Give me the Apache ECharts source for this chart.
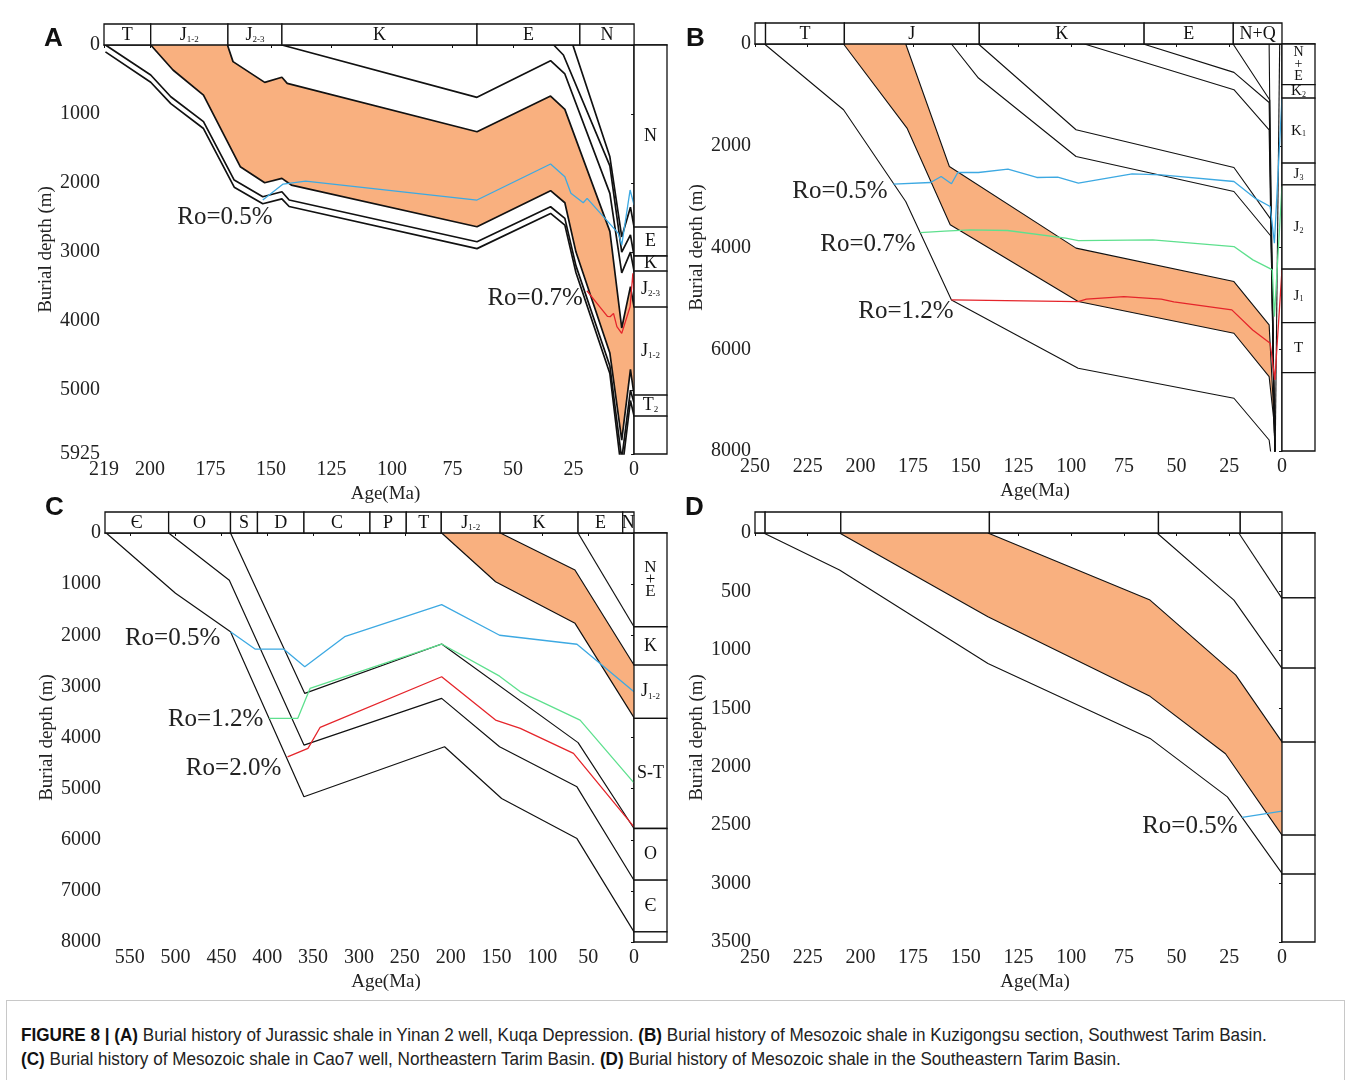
<!DOCTYPE html>
<html>
<head>
<meta charset="utf-8">
<script src="https://cdn.jsdelivr.net/npm/echarts@6/dist/echarts.min.js"></script>
<style>
  html, body { margin: 0; padding: 0; background: #fff; }
  #chart { width: 1352px; height: 1000px; }
  #caption {
    position: absolute; left: 6px; top: 1000px; width: 1339px; height: 80px;
    border-top: 1px solid #c8c8c8; border-left: 1px solid #c8c8c8; border-right: 1px solid #c8c8c8;
    box-sizing: border-box; padding: 22px 0 0 14px; overflow: hidden;
  }
  #caption div {
    font-family: "Liberation Sans Narrow", "Liberation Sans", Arial, sans-serif;
    font-size: 18.5px; line-height: 24px; color: #222; white-space: nowrap;
    transform: scale(0.925, 1); transform-origin: 0 0;
  }
  #caption b { color: #111; }
</style>
</head>
<body>
<div id="chart"></div>
<div id="caption"><div><b>FIGURE 8 | (A)</b> Burial history of Jurassic shale in Yinan 2 well, Kuqa Depression. <b>(B)</b> Burial history of Mesozoic shale in Kuzigongsu section, Southwest Tarim Basin.<br><b>(C)</b> Burial history of Mesozoic shale in Cao7 well, Northeastern Tarim Basin. <b>(D)</b> Burial history of Mesozoic shale in the Southeastern Tarim Basin.</div></div>
<script>
// ---- panel A: Yinan 2 well ----
const ageTicksA = [0, 25, 50, 75, 100, 125, 150, 175, 200, 219];
const depthTicksA = [0, 1000, 2000, 3000, 4000, 5000, 5925];
const barAgesA = [219, 199.7, 167.8, 145.5, 64.9, 22.4, 0];
const barNamesA = ['T', 'J_1-2', 'J_2-3', 'K', 'E', 'N'];
const colDepthsA = [0, 2637, 3057, 3275, 3796, 5072, 5376, 5925];
const colNamesA = ['N', 'E', 'K', 'J_2-3', 'J_1-2', 'T_2', ''];
const shaleTopA = [[168, 0], [165.7, 241], [152.6, 541], [145.5, 468], [143.3, 555], [64.9, 1256], [34.5, 739], [28.6, 932], [10, 2700], [5.1, 4100], [1.5, 3500], [0, 3796]];
const shaleBaseA = [[199.7, 0], [190.5, 362], [177.9, 725], [162.7, 1763], [152.6, 1995], [145.5, 1932], [141.6, 2029], [64.9, 2633], [34.5, 2111], [28.6, 2285], [24, 3000], [10, 4463], [5.1, 5724], [1.5, 4700], [0, 5072]];
const nBaseA = [[25.3, 0], [10, 1620], [5.1, 2780], [1.5, 2350], [0, 2637]];
const eBaseA = [[33.2, 0], [29.2, 145], [10, 1750], [5.1, 3000], [1.5, 2750], [0, 3057]];
const kBaseA = [[145.5, 0], [64.9, 758], [34.5, 228], [28.6, 420], [10, 2150], [5.1, 3300], [1.5, 3000], [0, 3275]];
const tUpperA = [[218.4, 0], [199.7, 435], [191.4, 749], [177.9, 1111], [165.2, 1956], [153.4, 2198], [145.5, 2126], [142.5, 2246], [64.9, 2850], [34.5, 2343], [28.6, 2511], [24, 3200], [10, 4650], [5.1, 6000], [1.5, 5000], [0, 5188]];
const tLowerA = [[218.4, 100], [199.7, 540], [191.4, 850], [177.9, 1210], [165.2, 2060], [153.4, 2300], [145.5, 2230], [142.5, 2340], [64.9, 2950], [34.5, 2440], [28.6, 2610], [24, 3300], [10, 4760], [5.1, 6200], [1.5, 5150], [0, 5376]];
const ro05A = [[153.4, 2246], [145, 2014], [135.7, 1971], [64.9, 2246], [34.5, 1724], [28.6, 1908], [26.1, 2149], [21, 2285], [19.4, 2222], [6.5, 2729], [5.1, 2898], [1.65, 2101], [0, 2318]];
const ro07A = [[19.5, 3560], [14, 3800], [11, 3930], [9.9, 3936], [8.5, 3888], [7.1, 4081], [5.1, 4178], [1.65, 3792], [0.5, 3308], [0, 3550]];
const roLabelsA = [[169, 2492, 'Ro=0.5%'], [40.9, 3666, 'Ro=0.7%']];

// ---- panel B: Kuzigongsu section ----
const ageTicksB = [0, 25, 50, 75, 100, 125, 150, 175, 200, 225, 250];
const depthTicksB = [0, 2000, 4000, 6000, 8000];
const barAgesB = [250, 245, 207.6, 143.6, 65.4, 23.1, 0];
const barNamesB = ['', 'T', 'J', 'K', 'E', 'N+Q'];
const colDepthsB = [0, 800, 1062, 2341, 2768, 4426, 5476, 6460, 8000];
const colNamesB = ['N+E', 'K_2', 'K_1', 'J_3', 'J_2', 'J_1', 'T', ''];
const shaleTopB = [[178.5, 0], [157.8, 2407], [97.7, 4013], [22.8, 4669], [6.1, 5521], [3.6, 7500]];
const shaleBaseB = [[208, 0], [177.9, 1652], [157.4, 3554], [96.7, 5063], [22.8, 5685], [6.1, 6538], [3.6, 7500]];
const tBaseB = [[245.5, 0], [208, 1292], [178.5, 3096], [156.8, 5030], [96.7, 6373], [22.8, 6963], [6.1, 7784], [4.5, 8300]];
const jUpperB = [[156.8, 0], [144, 669], [97.7, 2211], [22.8, 2899], [5.1, 3784], [3.3, 8300]];
const kLowerB = [[144, 0], [97.7, 1686], [22.8, 2427], [5.1, 3456], [3.3, 8300]];
const kUpperB = [[93.7, 0], [22.8, 899], [6.1, 1686], [3.3, 8300]];
const eBaseB = [[65.8, 0], [22.8, 558], [6.1, 1150], [3.3, 8300]];
const nBaseB = [[23.2, 0], [5.8, 1100], [3.3, 8300]];
const youngB1 = [[6.1, 0], [5.1, 3981], [3.3, 8300]];
const youngB2 = [[1.1, 0], [3.3, 8300]];
const ro05B = [[184.4, 2754], [166.7, 2722], [161.7, 2604], [156.8, 2748], [153.8, 2526], [144, 2526], [130, 2459], [116.3, 2624], [106.4, 2616], [96.6, 2734], [71.1, 2551], [57.3, 2571], [22.8, 2703], [12.9, 3029], [5.6, 3194], [3.6, 3914], [0, 1062]];
const ro07B = [[171.6, 3706], [160, 3680], [147.9, 3653], [130.2, 3666], [102.6, 3816], [96.6, 3863], [61.3, 3849], [22.8, 3981], [13.8, 4243], [6.1, 4406], [4.6, 4440], [3.6, 5358], [0, 2801]];
const ro12B = [[156.8, 5030], [96.7, 5063], [92.8, 5016], [75, 4965], [57.3, 5016], [51.3, 5069], [23.8, 5226], [13.9, 5620], [5.6, 5882], [3.4, 6603], [0, 4440]];
const roLabelsB = [[209.7, 2890, 'Ro=0.5%'], [196.4, 3932, 'Ro=0.7%'], [178.4, 5250, 'Ro=1.2%']];

// ---- panel C: Cao7 well ----
const ageTicksC = [0, 50, 100, 150, 200, 250, 300, 350, 400, 450, 500, 550];
const depthTicksC = [0, 1000, 2000, 3000, 4000, 5000, 6000, 7000, 8000];
const barAgesC = [577, 507.6, 440.1, 410.7, 360, 288, 248.4, 210.2, 146, 61, 12.3, 0];
const barNamesC = ['Є', 'O', 'S', 'D', 'C', 'P', 'T', 'J_1-2', 'K', 'E', 'N'];
const colDepthsC = [0, 1834, 2583, 3627, 5780, 6791, 7803, 8000];
const colNamesC = ['N+E', 'K', 'J_1-2', 'S-T', 'O', 'Є', ''];
const shaleTopC = [[145.8, 0], [64.4, 724], [0, 2583]];
const shaleBaseC = [[209.8, 0], [151, 953], [64.3, 1767], [0, 3610]];
const camBaseC = [[575.7, 0], [500.1, 1180], [440.1, 1930], [360, 5160], [206.6, 4181], [144.4, 5194], [62.2, 5977], [0, 7803]];
const ordBaseC = [[507.6, 0], [441.4, 926], [360, 4149], [209.8, 3235], [146.6, 4181], [62.2, 4965], [0, 6791]];
const silBaseC = [[440.1, 0], [359.1, 3137], [209.8, 2172], [61, 4100], [0, 5780]];
const eBaseC = [[61, 0], [0, 1834]];
const ro05C = [[440.1, 1932], [413.4, 2270], [382.2, 2270], [359.1, 2616], [315.6, 2029], [209.8, 1401], [146.6, 2000], [62.2, 2176], [0, 3106]];
const ro12C = [[397.8, 3627], [366.8, 3627], [353.4, 3040], [209.8, 2172], [146.6, 2800], [124, 3106], [58.8, 3660], [0, 4887]];
const ro20C = [[377.9, 4378], [355.6, 4214], [342.3, 3800], [209.8, 2812], [151, 3659], [124, 3822], [66, 4311], [0, 5748]];
const roLabelsC = [[503.3, 2055, 'Ro=0.5%'], [456.4, 3640, 'Ro=1.2%'], [436.8, 4600, 'Ro=2.0%']];

// ---- panel D: Southeastern Tarim ----
const ageTicksD = [0, 25, 50, 75, 100, 125, 150, 175, 200, 225, 250];
const depthTicksD = [0, 500, 1000, 1500, 2000, 2500, 3000, 3500];
const barAgesD = [250, 245.2, 209.3, 138.8, 58.6, 19.8, 0];
const barNamesD = ['', '', '', '', '', ''];
const colDepthsD = [0, 556, 1156, 1789, 2585, 2919, 3500];
const colNamesD = ['', '', '', '', '', ''];
const shaleTopD = [[139.5, 0], [62.6, 574], [21.9, 1216], [0, 1787]];
const shaleBaseD = [[209.9, 0], [139.5, 717], [62.6, 1398], [26.8, 1889], [0, 2585]];
const baseD = [[245.9, 0], [209.9, 317], [139.5, 1116], [62.6, 1758], [25.9, 2258], [0, 2913]];
const upperD1 = [[59.3, 0], [22.8, 574], [0, 1158]];
const upperD2 = [[20.5, 0], [0, 559]];
const ro05D = [[18.9, 2434], [0, 2380]];
const roLabelsD = [[43.7, 2509, 'Ro=0.5%']];

const SERIF = '"Liberation Serif", "Times New Roman", serif';
const ORANGE = '#F9B07F';
const BLUE = '#3DA9E2';
const GREEN = '#5EE08E';
const RED = '#E5252B';
const BAR_H = 21;

const panels = [
  { grid: { left: 104, top: 45, width: 563, height: 409 }, xMin: -13.6, xMax: 219, yMax: 5925,
    ageTicks: ageTicksA, depthTicks: depthTicksA, barAges: barAgesA, barNames: barNamesA,
    colDepths: colDepthsA, colNames: colNamesA, colSize: 18, shale: [shaleTopA, shaleBaseA],
    black: [nBaseA, eBaseA, kBaseA, shaleTopA, shaleBaseA, tUpperA, tLowerA], lw: 1.7,
    ro: [[ro05A, BLUE], [ro07A, RED]], roLabels: roLabelsA },
  { grid: { left: 755, top: 44, width: 560, height: 407 }, xMin: -15.66, xMax: 250, yMax: 8000,
    ageTicks: ageTicksB, depthTicks: depthTicksB, barAges: barAgesB, barNames: barNamesB,
    colDepths: colDepthsB, colNames: colNamesB, colSize: 15, shale: [shaleTopB, shaleBaseB],
    black: [tBaseB, shaleTopB.concat([[3.3, 8300]]), shaleBaseB.concat([[3.3, 8300]]), jUpperB, kLowerB, kUpperB, eBaseB, nBaseB, youngB1, youngB2], lw: 1.1,
    ro: [[ro05B, BLUE], [ro07B, GREEN], [ro12B, RED]], roLabels: roLabelsB },
  { grid: { left: 105, top: 533, width: 562, height: 409 }, xMin: -36, xMax: 577, yMax: 8000,
    ageTicks: ageTicksC, depthTicks: depthTicksC, barAges: barAgesC, barNames: barNamesC,
    colDepths: colDepthsC, colNames: colNamesC, colSize: 18, shale: [shaleTopC, shaleBaseC],
    black: [camBaseC, ordBaseC, silBaseC, shaleTopC, shaleBaseC, eBaseC], lw: 1.2,
    ro: [[ro05C, BLUE], [ro12C, GREEN], [ro20C, RED]], roLabels: roLabelsC },
  { grid: { left: 755, top: 533, width: 560, height: 409 }, xMin: -15.66, xMax: 250, yMax: 3500,
    ageTicks: ageTicksD, depthTicks: depthTicksD, barAges: barAgesD, barNames: barNamesD,
    colDepths: colDepthsD, colNames: colNamesD, colSize: 18, shale: [shaleTopD, shaleBaseD],
    black: [baseD, shaleTopD, shaleBaseD, upperD1, upperD2], lw: 1.1,
    ro: [[ro05D, BLUE]], roLabels: roLabelsD }
];

function makeRich(size) {
  return {
    b: { fontSize: size, fontFamily: SERIF, fill: '#111' },
    s: { fontSize: Math.round(size * 0.5), fontFamily: SERIF, fill: '#111', verticalAlign: 'bottom' },
    v: { fontSize: size - 1, fontFamily: SERIF, fill: '#111', lineHeight: 12 }
  };
}

function stratText(name) {
  if (!name) return '';
  if (name === 'N+E') return '{v|N}\n{v|+}\n{v|E}';
  const parts = name.split('_');
  return parts.length > 1 ? `{b|${parts[0]}}{s|${parts[1]}}` : `{b|${parts[0]}}`;
}

const grids = [], xAxes = [], yAxes = [], series = [];

panels.forEach((p, gi) => {
  grids.push(p.grid);
  xAxes.push({
    type: 'value', gridIndex: gi, inverse: true, min: p.xMin, max: p.xMax,
    name: 'Age(Ma)', nameLocation: 'middle', nameGap: 31,
    nameTextStyle: { fontFamily: SERIF, fontSize: 19, color: '#222' },
    axisLine: { lineStyle: { color: '#111', width: 1.5 } },
    axisTick: { show: true, length: 3, customValues: p.ageTicks, lineStyle: { color: '#111' } },
    axisLabel: { customValues: p.ageTicks, margin: 6, fontFamily: SERIF, fontSize: 20, color: '#222',
      formatter: v => String(v) },
    splitLine: { show: false }
  });
  yAxes.push({
    type: 'value', gridIndex: gi, inverse: true, min: 0, max: p.yMax,
    name: 'Burial depth (m)', nameLocation: 'middle', nameGap: 48, nameRotate: 90,
    nameTextStyle: { fontFamily: SERIF, fontSize: 19, color: '#222' },
    axisLine: { lineStyle: { color: '#111', width: 1.5 } },
    axisTick: { show: true, length: 3, customValues: p.depthTicks, lineStyle: { color: '#111' } },
    axisLabel: { customValues: p.depthTicks, margin: 4, fontFamily: SERIF, fontSize: 20, color: '#222',
      formatter: v => String(v) },
    splitLine: { show: false }
  });

  // shale fill between its top and base
  series.push({
    type: 'custom', xAxisIndex: gi, yAxisIndex: gi, clip: true, silent: true, z: 1,
    data: [[0, 0]],
    renderItem(params, api) {
      const pts = p.shale[0].concat(p.shale[1].slice().reverse()).map(d => api.coord(d));
      return { type: 'polygon', shape: { points: pts }, style: { fill: ORANGE } };
    }
  });

  // burial curves
  p.black.forEach(line => {
    series.push({
      type: 'line', xAxisIndex: gi, yAxisIndex: gi, data: line, symbol: 'none', clip: true,
      silent: true, z: 3, lineStyle: { color: '#111', width: p.lw }
    });
  });

  // Ro curves
  p.ro.forEach(([line, color]) => {
    series.push({
      type: 'line', xAxisIndex: gi, yAxisIndex: gi, data: line, symbol: 'none', clip: true,
      silent: true, z: 4, lineStyle: { color, width: 1.3 }
    });
  });

  // stratigraphic bar above the plot
  const barRich = makeRich(18);
  series.push({
    type: 'custom', xAxisIndex: gi, yAxisIndex: gi, clip: false, silent: true, z: 5,
    data: p.barNames.map((n, i) => [p.barAges[i], p.barAges[i + 1]]),
    renderItem(params, api) {
      const p0 = api.coord([api.value(0), 0]);
      const p1 = api.coord([api.value(1), 0]);
      const x = Math.min(p0[0], p1[0]), w = Math.abs(p1[0] - p0[0]);
      return {
        type: 'group',
        children: [
          { type: 'rect', shape: { x, y: p0[1] - BAR_H, width: w, height: BAR_H },
            style: { fill: '#fff', stroke: '#111', lineWidth: 1.3 } },
          { type: 'text', x: x + w / 2, y: p0[1] - BAR_H / 2 + 1,
            style: { text: stratText(p.barNames[params.dataIndex]), align: 'center', verticalAlign: 'middle',
              fontFamily: SERIF, fontSize: 18, fill: '#111', rich: barRich } }
        ]
      };
    }
  });

  // present-day column on the right
  const colRich = makeRich(p.colSize);
  series.push({
    type: 'custom', xAxisIndex: gi, yAxisIndex: gi, clip: false, silent: true, z: 5,
    data: p.colNames.map((n, i) => [p.colDepths[i], p.colDepths[i + 1]]),
    renderItem(params, api) {
      const p0 = api.coord([0, api.value(0)]);
      const p1 = api.coord([p.xMin, api.value(1)]);
      const w = p1[0] - p0[0], h = p1[1] - p0[1];
      return {
        type: 'group',
        children: [
          { type: 'rect', shape: { x: p0[0], y: p0[1], width: w, height: h },
            style: { fill: '#fff', stroke: '#111', lineWidth: 1.3 } },
          { type: 'text', x: p0[0] + w / 2, y: p0[1] + h / 2,
            style: { text: stratText(p.colNames[params.dataIndex]), align: 'center', verticalAlign: 'middle',
              fontFamily: SERIF, fontSize: p.colSize, fill: '#111', rich: colRich } }
        ]
      };
    }
  });

  // Ro labels
  series.push({
    type: 'custom', xAxisIndex: gi, yAxisIndex: gi, clip: false, silent: true, z: 6,
    data: p.roLabels.map(d => [d[0], d[1]]),
    renderItem(params, api) {
      const c = api.coord([api.value(0), api.value(1)]);
      return { type: 'text', x: c[0], y: c[1],
        style: { text: p.roLabels[params.dataIndex][2], align: 'center', verticalAlign: 'middle',
          fontFamily: SERIF, fontSize: 25, fill: '#222' } };
    }
  });
});

const letterFont = 'bold 26px "Liberation Sans", Arial, sans-serif';
const chart = echarts.init(document.getElementById('chart'), null, { renderer: 'canvas' });
chart.setOption({
  animation: false,
  backgroundColor: '#fff',
  grid: grids,
  xAxis: xAxes,
  yAxis: yAxes,
  series,
  graphic: [
    { type: 'text', left: 44, top: 26, style: { text: 'A', font: letterFont, fill: '#111' } },
    { type: 'text', left: 686, top: 26, style: { text: 'B', font: letterFont, fill: '#111' } },
    { type: 'text', left: 45, top: 495, style: { text: 'C', font: letterFont, fill: '#111' } },
    { type: 'text', left: 685, top: 495, style: { text: 'D', font: letterFont, fill: '#111' } }
  ]
});
</script>
</body>
</html>
